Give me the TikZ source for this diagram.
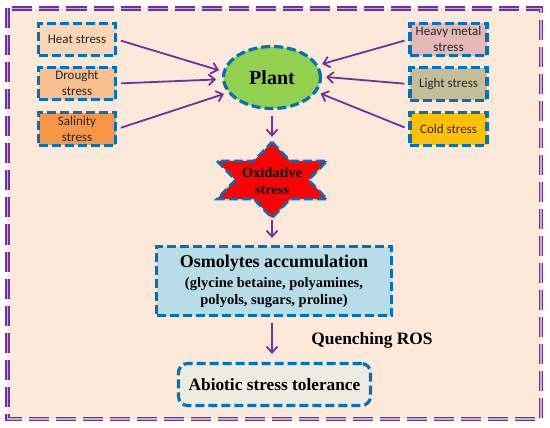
\documentclass[tikz,border=0pt]{standalone}
\usepackage{fontspec}
\setmainfont{Liberation Serif}
\newfontfamily\boxfont{Carlito}
\usetikzlibrary{arrows.meta,shapes.geometric}
\definecolor{bg}{HTML}{FDE9D9}
\definecolor{bdr}{HTML}{0070C0}
\definecolor{arr}{HTML}{7030A0}
\definecolor{heatc}{HTML}{FCD5B5}
\definecolor{droughtc}{HTML}{FAC090}
\definecolor{salc}{HTML}{F79646}
\definecolor{heavyc}{HTML}{E6B9B8}
\definecolor{lightc}{HTML}{C4BD97}
\definecolor{coldc}{HTML}{FFC000}
\definecolor{plantc}{HTML}{92D050}
\definecolor{osmoc}{HTML}{B7DEE8}
\definecolor{abioc}{HTML}{EEECE1}
\tikzset{
  bluedash/.style={draw=bdr, line width=3.2pt, dash pattern=on 9pt off 4pt},
  sbox/.style={bluedash, minimum width=77pt, minimum height=32.5pt, inner sep=0pt,
    align=center, font=\boxfont\fontsize{13}{16}\selectfont, text=black!85},
  arrow/.style={draw=arr, line width=1.8pt, -{Straight Barb[length=6pt,width=11pt]}},
  frame/.style={draw=arr, line width=1.5pt, double=arr!40, double distance=1.8pt,
    dash pattern=on 20pt off 7pt, fill=bg},
}
\begin{document}
\begin{tikzpicture}[x=1pt,y=-1pt]
\useasboundingbox (0,0) rectangle (550,428);
\draw[frame] (7.5,8.5) rectangle (541,419);

% stress boxes
\node[sbox, fill=heatc] (heat) at (77,39.5) {Heat stress};
\node[sbox, fill=droughtc] (drought) at (77,83.5) {Drought\\stress};
\node[sbox, fill=salc] (salinity) at (77,129) {Salinity\\stress};
\node[sbox, fill=heavyc] (heavy) at (448.5,39.5) {Heavy metal\\stress};
\node[sbox, fill=lightc] (light) at (448.5,84) {Light stress};
\node[sbox, fill=coldc] (cold) at (448.5,129) {Cold stress};

% plant
\node[ellipse, bluedash, fill=plantc, minimum width=97pt, minimum height=62pt, inner sep=0pt,
  font=\bfseries\fontsize{20}{24}\selectfont] (plant) at (272,77.5) {Plant};

% oxidative stress star
\node[minimum width=110pt, minimum height=76pt, inner sep=0pt] (ox) at (272,180) {};
\path[bluedash, line width=2.6pt, fill=red] (ox.center) +(0,-38) -- +(18.3,-19) -- +(55,-19) -- +(36.6,0)
  -- +(55,19) -- +(18.3,19) -- +(0,38) -- +(-18.3,19) -- +(-55,19) -- +(-36.6,0)
  -- +(-55,-19) -- +(-18.3,-19) -- cycle;
\node[align=center, font=\bfseries\fontsize{14.5}{17}\selectfont] (oxt) at (272,181) {Oxidative\\stress};

% osmolytes
\node[bluedash, fill=osmoc, minimum width=235pt, minimum height=69pt, inner sep=0pt,
  align=center, font=\bfseries\fontsize{14.5}{17}\selectfont] (osmo) at (274,281)
  {{\fontsize{18}{20}\selectfont Osmolytes accumulation}\\[3pt](glycine betaine, polyamines,\\polyols, sugars, proline)};

% quenching
\node[font=\bfseries\fontsize{17.4}{20}\selectfont] (quench) at (372,340) {Quenching ROS};

% abiotic
\node[bluedash, fill=abioc, rounded corners=9pt, minimum width=192pt, minimum height=42pt,
  inner sep=0pt, font=\bfseries\fontsize{17.3}{20}\selectfont] (abio) at (274.5,384.5) {Abiotic stress tolerance};

% arrows
\draw[arrow, shorten <=4pt, shorten >=4pt] (heat.east) -- (plant.173);
\draw[arrow, shorten <=4pt, shorten >=6pt] (drought.east) -- (plant.182);
\draw[arrow, shorten <=4pt, shorten >=4pt] (salinity.east) -- (plant.199);
\draw[arrow, shorten <=4pt, shorten >=4pt] (heavy.west) -- (plant.15);
\draw[arrow, shorten <=4pt, shorten >=4pt] (light.west) -- (plant.1);
\draw[arrow, shorten <=4pt, shorten >=4pt] (cold.west) -- (plant.-18);
\draw[arrow, shorten <=6pt, shorten >=5pt] (plant.south) -- (plant.south |- ox.north);
\draw[arrow, shorten <=2pt, shorten >=7pt] (ox.south) -- (ox.south |- osmo.north);
\draw[arrow, shorten <=6pt, shorten >=8pt] (osmo.south -| ox.south) -- (ox.south |- abio.north);
\end{tikzpicture}
\end{document}
